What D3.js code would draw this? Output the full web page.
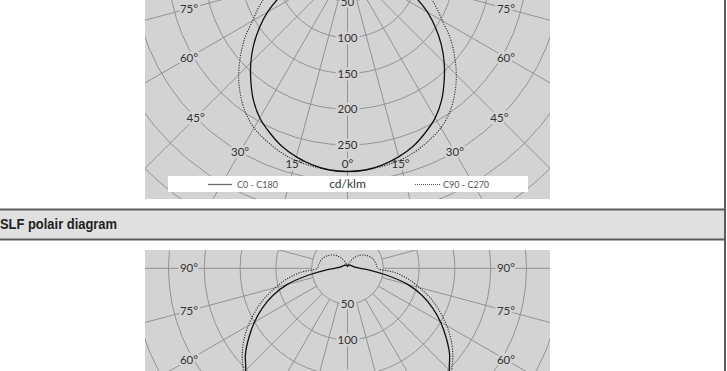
<!DOCTYPE html>
<html><head><meta charset="utf-8">
<script src="https://cdn.jsdelivr.net/npm/d3@7"></script>
<style>
html,body{margin:0;padding:0;background:#fff;}
svg{display:block;}
</style></head>
<body>
<svg id="chart" width="727" height="371"></svg>
<script>
// ---------- data ----------
const ringValues = [50,100,150,200,250,300,350,400,450,500];
const valueLabels = [50,100,150,200,250];
const angleLabels = [0,15,30,45,60,75,90];
const radialAngles = d3.range(0, 360, 15);

// top diagram (first luminaire), cd/klm vs gamma (deg)
const gammaTop = [0,5,10,15,20,25,30,35,40,45,50,55,60,65,70,75,80,85,90,100,120,150,180];
const c0Top    = [287,286,282,276,268,257,245,229,210,191,171,150,129,106,82,58,36,18,5,1,0,0,0];
const c90Top   = [287,286,284,281,276,269,261,249,233,215,195,175,153,137,121,103,84,62,40,6,0,0,0];

// bottom diagram (SLF), cd/klm vs gamma (deg)
const gammaBottom = [0,10,20,30,40,45,50,55,60,65,70,75,80,85,90,95,100,110,120,130,140,150,160,170,180];
const c0Bottom    = [290,286,274,254,225,201,186,168,150,131,111,87,56,32,18,13,10,8,7,6,6,5,5,4,2];
const c90Bottom   = [290,287,277,260,232,206,192,177,160,142,124,104,86,66,42,41,40,38,34,29,23,16,9,5,2];

const legendLabels = ["C0 - C180", "cd/klm", "C90 - C270"];
const titleText = "SLF polair diagram";

// ---------- drawing ----------
const svg = d3.select("#chart");
const W = 727, H = 371;
const panelColor = "#d3d3d3";
const gridColor = "#939393";
const textFont = "Lato, 'Noto Sans', sans-serif";

const rScale = d3.scaleLinear().domain([0, 50]).range([0, 35.8]);
const deg = Math.PI / 180;

svg.append("rect").attr("width", W).attr("height", H).attr("fill", "#fff");

function drawDiagram(id, panel, cx, cy, gammas, c0, c90, opts) {
  const defs = svg.append("defs");
  defs.append("clipPath").attr("id", id)
    .append("rect").attr("x", panel.x).attr("y", panel.y)
    .attr("width", panel.w).attr("height", panel.h);

  svg.append("rect").attr("x", panel.x).attr("y", panel.y)
    .attr("width", panel.w).attr("height", panel.h).attr("fill", panelColor);

  const g = svg.append("g").attr("clip-path", `url(#${id})`);
  const grid = g.append("g").attr("transform", `translate(${cx},${cy})`);

  grid.selectAll("circle.ring").data(ringValues).join("circle")
    .attr("class", "ring")
    .attr("r", d => rScale(d))
    .attr("fill", "none").attr("stroke", gridColor).attr("stroke-width", 1);

  grid.selectAll("line.rad").data(radialAngles).join("line")
    .attr("class", "rad")
    .attr("x1", a => rScale(50) * Math.sin(a * deg))
    .attr("y1", a => rScale(50) * Math.cos(a * deg))
    .attr("x2", a => rScale(900) * Math.sin(a * deg))
    .attr("y2", a => rScale(900) * Math.cos(a * deg))
    .attr("stroke", gridColor).attr("stroke-width", 1);

  // labels (with background halo that breaks the grid lines)
  const lab = g.append("g").attr("font-family", textFont).attr("font-size", 11.5)
    .attr("fill", "#333").attr("text-anchor", "middle");
  lab.selectAll("text.val").data(valueLabels).join("text")
    .attr("class", "val")
    .attr("x", cx).attr("y", d => cy + rScale(d)).attr("dy", "0.36em")
    .attr("stroke", panelColor).attr("stroke-width", 5).attr("paint-order", "stroke")
    .text(d => d);

  const maxDx = opts.maxDx, maxY = opts.maxY;
  const angleItems = [];
  angleLabels.forEach(a => {
    const sides = a === 0 ? [0] : [-1, 1];
    sides.forEach(s => {
      let r = rScale(300);
      const sa = Math.sin(a * deg), ca = Math.cos(a * deg);
      if (r * sa > maxDx) r = maxDx / sa;
      if (maxY != null && ca > 0 && cy + r * ca > maxY) r = (maxY - cy) / ca;
      angleItems.push({a, x: cx + s * r * sa, y: cy + r * ca});
    });
  });
  lab.selectAll("text.ang").data(angleItems).join("text")
    .attr("class", "ang")
    .attr("x", d => d.x).attr("y", d => d.y).attr("dy", "0.36em")
    .attr("stroke", panelColor).attr("stroke-width", 5).attr("paint-order", "stroke")
    .text(d => d.a + "°");

  // curves on top
  function pts(vals) {
    const right = gammas.map((gm, i) => ({a: Math.PI - gm * deg, v: vals[i]})).reverse();
    const left = gammas.map((gm, i) => ({a: Math.PI + gm * deg, v: vals[i]})).slice(1);
    return right.concat(left);
  }
  const radial = d3.lineRadial()
    .angle(d => d.a).radius(d => rScale(d.v))
    .curve(d3.curveCatmullRom.alpha(0.5));

  const curves = g.append("g").attr("transform", `translate(${cx},${cy})`);
  curves.append("path").attr("d", radial(pts(c90)))
    .attr("fill", "none").attr("stroke", "#222").attr("stroke-width", 1.1)
    .attr("stroke-dasharray", "1.1,1.4");
  curves.append("path").attr("d", radial(pts(c0)))
    .attr("fill", "none").attr("stroke", "#111").attr("stroke-width", 1.3);

  return g;
}

// top diagram
const topPanel = {x: 145, y: 0, w: 405, h: 199};
const topG = drawDiagram("clipTop", topPanel, 347.5, -34, gammaTop, c0Top, c90Top, {maxDx: 158.5, maxY: 164});

// legend box
const leg = topG.append("g");
leg.append("rect").attr("x", 168).attr("y", 176).attr("width", 360).attr("height", 16).attr("fill", "#fff");
leg.append("line").attr("x1", 208).attr("x2", 232).attr("y1", 184.5).attr("y2", 184.5)
  .attr("stroke", "#6a6a6a").attr("stroke-width", 1.3);
leg.append("text").attr("x", 237).attr("y", 184.5).attr("dy", "0.36em")
  .attr("font-family", textFont).attr("font-size", 9).attr("fill", "#555").text(legendLabels[0]);
leg.append("text").attr("x", 347.5).attr("y", 184).attr("dy", "0.36em").attr("text-anchor", "middle")
  .attr("font-family", textFont).attr("font-size", 12).attr("fill", "#333").text(legendLabels[1]);
leg.append("line").attr("x1", 415).attr("x2", 440).attr("y1", 184.5).attr("y2", 184.5)
  .attr("stroke", "#555").attr("stroke-width", 1).attr("stroke-dasharray", "1,1");
leg.append("text").attr("x", 443).attr("y", 184.5).attr("dy", "0.36em")
  .attr("font-family", textFont).attr("font-size", 9).attr("fill", "#555").text(legendLabels[2]);

// title band
svg.append("rect").attr("x", 0).attr("y", 209.5).attr("width", 725).attr("height", 30).attr("fill", "#e0e0e0");
svg.append("line").attr("x1", 0).attr("x2", 726).attr("y1", 209.5).attr("y2", 209.5).attr("stroke", "#5c5c5c").attr("stroke-width", 2);
svg.append("line").attr("x1", 0).attr("x2", 726).attr("y1", 239.5).attr("y2", 239.5).attr("stroke", "#5c5c5c").attr("stroke-width", 2);
svg.append("text").attr("x", 0).attr("y", 229)
  .attr("font-family", "'Liberation Sans Narrow', 'Arial Narrow', sans-serif")
  .attr("font-weight", "bold").attr("font-size", 14).attr("fill", "#222")
  .attr("textLength", 117).attr("lengthAdjust", "spacingAndGlyphs")
  .text(titleText);

// bottom diagram
const botPanel = {x: 145, y: 250, w: 405, h: 121};
drawDiagram("clipBot", botPanel, 347.5, 268.3, gammaBottom, c0Bottom, c90Bottom, {maxDx: 158.5, maxY: null});

// right border
svg.append("line").attr("x1", 725).attr("x2", 725).attr("y1", 0).attr("y2", H).attr("stroke", "#5c5c5c").attr("stroke-width", 2);
</script>
</body></html>
